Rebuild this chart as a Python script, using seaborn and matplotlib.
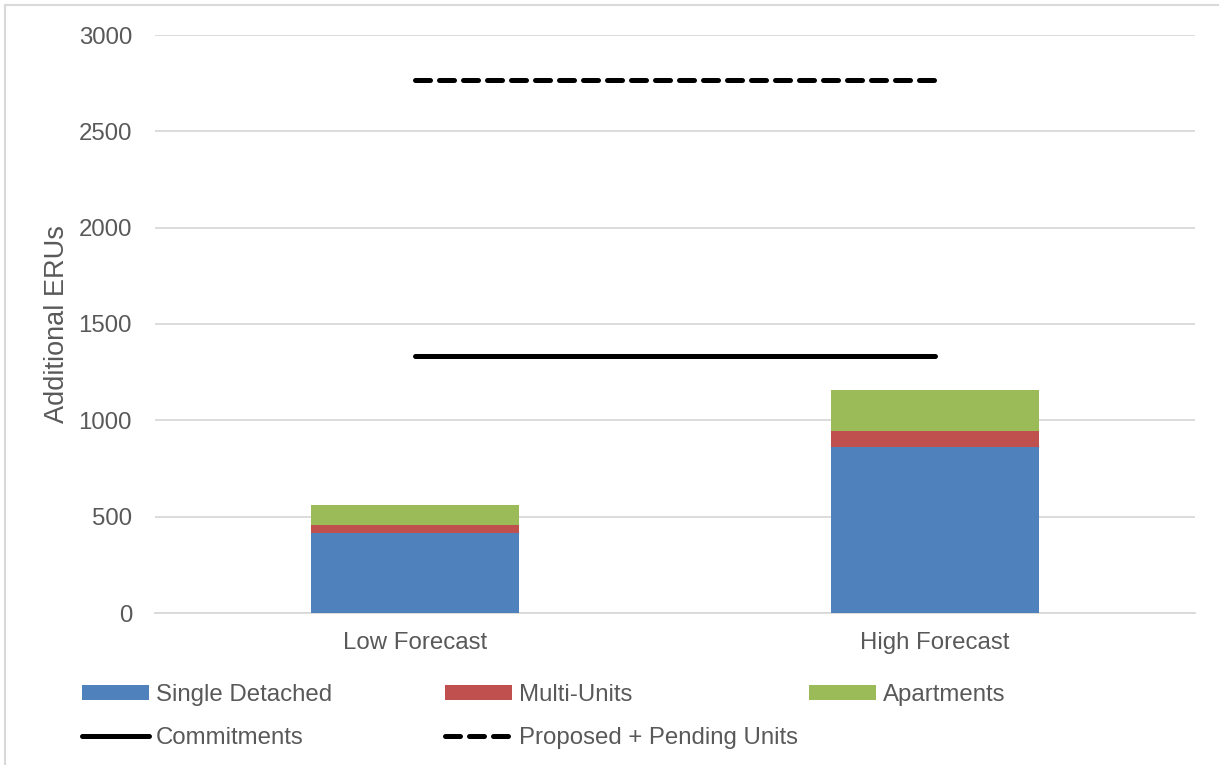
import matplotlib
matplotlib.use("Agg")
import matplotlib.pyplot as plt
from matplotlib.lines import Line2D
from matplotlib.patches import Patch
import seaborn as sns
import pandas as pd
import numpy as np

# ---- data ----
categories = ["Low Forecast", "High Forecast"]
single_detached = [415, 860]
multi_units = [42, 86]
apartments = [103, 213]
commitments = 1335
proposed_pending = 2765
y_ticks = [0, 500, 1000, 1500, 2000, 2500, 3000]

C_SD = "#4F81BD"
C_MU = "#C0504D"
C_AP = "#9BBB59"
TXT = "#595959"
GRID = "#D9D9D9"

sns.set_theme(style="white")
plt.rcParams["font.family"] = ["Liberation Sans", "DejaVu Sans"]
FS = 17.3
LW = 3.6
DASH = (3.0, 1.8)

W, H = 1219, 765
fig = plt.figure(figsize=(W / 100, H / 100), dpi=100)
ax = fig.add_axes([155 / W, 1 - 613 / H, (1195 - 155) / W, (613 - 35) / H])

sd = np.array(single_detached, dtype=float)
mu = np.array(multi_units, dtype=float)
ap = np.array(apartments, dtype=float)

layers = [
    (sd + mu + ap, C_AP),
    (sd + mu, C_MU),
    (sd, C_SD),
]
for vals, col in layers:
    df = pd.DataFrame({"cat": categories, "val": vals})
    sns.barplot(data=df, x="cat", y="val", color=col, saturation=1,
                width=0.4, linewidth=0, ax=ax, zorder=3)

xpos = np.arange(len(categories))
ax.plot(xpos, [commitments] * len(xpos), color="black", lw=LW,
        solid_capstyle="round", zorder=4)
ax.plot(xpos, [proposed_pending] * len(xpos), color="black", lw=LW,
        dashes=DASH, dash_capstyle="round", zorder=4)

ax.set_xlim(-0.5, len(categories) - 0.5)
ax.set_ylim(0, 3000)
ax.set_yticks(y_ticks)
ax.set_yticklabels([str(t) for t in y_ticks])
ax.yaxis.grid(True, color=GRID, lw=1.3, zorder=0)
ax.set_axisbelow(True)
for s in ["top", "right", "left"]:
    ax.spines[s].set_visible(False)
ax.spines["bottom"].set_color(GRID)
ax.spines["bottom"].set_linewidth(1.3)
ax.tick_params(axis="y", length=0, pad=16.5, labelsize=FS, labelcolor=TXT)
ax.tick_params(axis="x", length=0, pad=14, labelsize=FS, labelcolor=TXT)
ax.set_xlabel("")
ax.set_ylabel("Additional ERUs", fontsize=19.5, color=TXT, labelpad=6)

h_sd = Patch(facecolor=C_SD, edgecolor="none", label="Single Detached")
h_cm = Line2D([], [], color="black", lw=LW, solid_capstyle="round", label="Commitments")
h_mu = Patch(facecolor=C_MU, edgecolor="none", label="Multi-Units")
h_pp = Line2D([], [], color="black", lw=LW, dashes=DASH, dash_capstyle="round",
              label="Proposed + Pending Units")
h_ap = Patch(facecolor=C_AP, edgecolor="none", label="Apartments")

columns = [([h_sd, h_cm], 80), ([h_mu, h_pp], 443), ([h_ap], 807)]
for hs, x0 in columns:
    leg = fig.legend(handles=hs, loc="upper left",
                     bbox_to_anchor=((x0 - 10) / W, 1 - 672 / H), frameon=False,
                     fontsize=FS, handlelength=2.8, handleheight=0.6,
                     handletextpad=0.28, labelspacing=0.88, borderpad=0)
    for t in leg.get_texts():
        t.set_color(TXT)

# chart frame (left and top edges)
fig.add_artist(Line2D([5 / W, 5 / W], [0, 1 - 5 / H], color="#D9D9D9", lw=1.5,
                      transform=fig.transFigure))
fig.add_artist(Line2D([5 / W, 1], [1 - 5 / H, 1 - 5 / H], color="#D9D9D9", lw=1.5,
                      transform=fig.transFigure))

fig.savefig("out.png", dpi=100, facecolor="white")
